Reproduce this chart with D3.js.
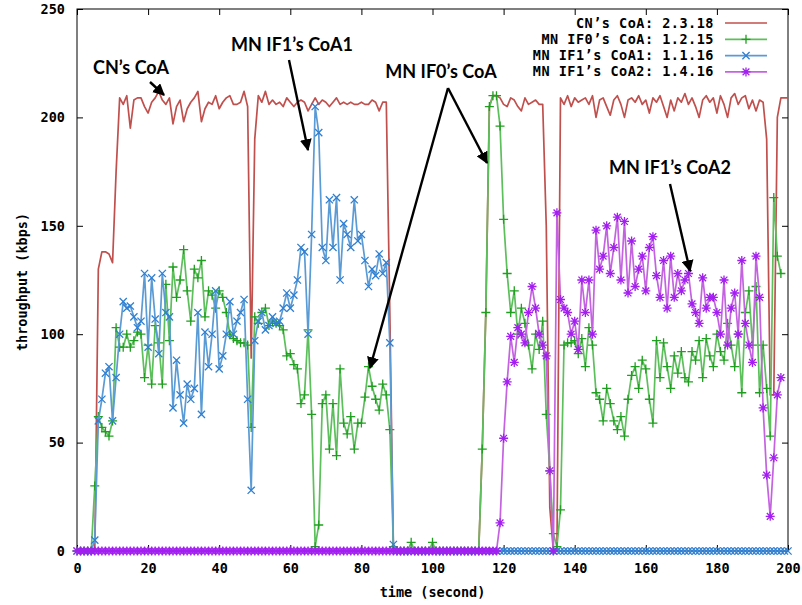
<!DOCTYPE html>
<html><head><meta charset="utf-8">
<script src="https://cdn.jsdelivr.net/npm/d3@7"></script>
<style>
html,body{margin:0;padding:0;background:#fff;}
svg{display:block;}
.tk text{font-family:"DejaVu Sans Mono",monospace;font-weight:bold;font-size:13.5px;fill:#000;}
</style></head>
<body>
<svg id="c" width="802" height="605"></svg>
<script>
// ---- data (time in seconds, throughput in kbps) ----
const timeDomain = [0, 200];
const yDomain = [0, 250];
const xTicks = [0,20,40,60,80,100,120,140,160,180,200];
const yTicks = [0,50,100,150,200,250];

const cnCoA = [0,0,0,0,0,0,130,138,138,137,
 133,175,209,206,210,195,208,209,209,205,
 202,207,209,212,208,206,209,197,205,208,
 198,204,207,209,212,198,204,207,206,210,
 204,207,209,210,206,206,207,212,205,89,
 190,210,207,212,206,208,206,207,205,209,
 207,205,207,208,207,203,206,209,206,208,
 207,205,207,209,206,207,206,207,206,206,
 207,206,206,208,207,203,207,207,110,0,
 0,0,0,0,0,0,0,0,0,0,
 0,0,0,0,0,0,0,0,0,0,
 0,0,0,0,47,110,205,210,210,209,
 206,205,209,208,205,203,209,206,207,208,
 206,206,150,20,0,0,209,206,210,205,
 209,207,208,209,206,210,200,208,209,205,
 201,208,210,206,200,208,209,207,210,206,
 208,202,209,207,210,205,200,208,203,209,
 207,211,206,209,205,200,208,210,207,209,
 202,210,206,200,209,211,206,209,210,204,
 208,203,208,207,190,72,72,200,209,209,
 209];

const mnIF0 = [0,0,0,0,0,30,62,57,55,53,
 60,103,94,94,100,94,97,101,100,80,
 95,77,104,96,77,123,97,131,117,125,
 139,120,106,130,126,134,108,120,118,112,
 120,117,110,100,98,97,96,96,95,57,
 108,105,110,112,104,106,105,104,102,90,
 91,86,84,68,72,102,63,2,12,68,
 72,47,68,44,84,59,54,62,47,59,
 59,71,85,76,70,65,77,72,56,2,
 0,0,0,0,4,0,0,0,0,0,
 4,0,0,0,0,0,0,0,0,0,
 0,0,0,0,47,110,205,210,210,196,
 153,128,110,120,100,112,105,95,84,100,
 93,106,63,37,8,2,19,95,96,96,
 97,91,98,85,103,95,73,70,60,75,
 68,60,56,62,53,70,81,85,75,88,
 84,70,59,97,80,96,85,75,90,82,
 92,80,78,92,88,97,80,98,90,85,
 100,92,88,105,95,85,100,73,110,120,
 95,122,73,95,75,53,163,136,128,null,
 null];

const mnIF1a = [0,0,0,0,0,5,60,70,82,85,
 60,80,100,115,112,113,108,103,106,128,
 94,126,107,91,128,110,108,66,88,72,
 59,77,70,75,110,63,101,85,100,120,
 84,90,100,115,100,106,110,116,70,28,
 97,106,110,102,104,108,105,106,112,119,
 112,118,125,140,138,100,146,205,193,140,
 134,162,140,163,125,151,146,140,162,143,
 146,134,122,130,127,137,128,133,96,3,
 0,0,0,0,0,0,0,0,0,0,
 0,0,0,0,0,0,0,0,0,0,
 0,0,0,0,0,0,0,0,0,0,
 0,0,0,0,0,0,0,0,0,0,
 0,0,0,0,0,0,0,0,0,0,
 0,0,0,0,0,0,0,0,0,0,
 0,0,0,0,0,0,0,0,0,0,
 0,0,0,0,0,0,0,0,0,0,
 0,0,0,0,0,0,0,0,0,0,
 0,0,0,0,0,0,0,0,0,0,
 0,0,0,0,0,0,0,0,0,0,
 0];

const mnIF1b = [0,0,0,0,0,0,0,0,0,0,
 0,0,0,0,0,0,0,0,0,0,
 0,0,0,0,0,0,0,0,0,0,
 0,0,0,0,0,0,0,0,0,0,
 0,0,0,0,0,0,0,0,0,0,
 0,0,0,0,0,0,0,0,0,0,
 0,0,0,0,0,0,0,0,0,0,
 0,0,0,0,0,0,0,0,0,0,
 0,0,0,0,0,0,0,0,0,0,
 0,0,0,0,0,0,0,0,0,0,
 0,0,0,0,0,0,0,0,0,0,
 0,0,0,0,0,0,0,0,0,13,
 52,78,99,87,103,100,96,110,122,112,
 100,95,90,37,0,156,116,112,110,100,
 106,93,125,110,125,100,148,130,136,150,
 128,140,154,125,152,119,143,122,130,136,
 120,140,145,127,117,134,112,136,117,128,
 120,125,128,114,110,105,126,112,117,117,
 110,100,125,95,112,119,100,134,105,95,
 87,136,117,66,35,16,43,72,80,null,
 null];

const seriesNames = ["CN\u2019s CoA: 2.3.18","MN IF0\u2019s CoA: 1.2.15","MN IF1\u2019s CoA1: 1.1.16","MN IF1\u2019s CoA2: 1.4.16"];
const seriesData = [cnCoA, mnIF0, mnIF1a, mnIF1b];
const lineColors = ["#c0504d","#5cbf5c","#5b9bd5","#c463e0"];
const markColors = [null,"#1f9e1f","#2f7fd2","#a21ff0"];
const markShapes = [null,"plus","cross","star"];

const annotations = [
  {text:"CN\u2019s CoA", x:131, y:74, arrows:[[150,82,164,95]]},
  {text:"MN IF1\u2019s CoA1", x:292, y:51, arrows:[[289,60,308,150]]},
  {text:"MN IF0\u2019s CoA", x:441, y:78, arrows:[[448,88,487,163],[448,88,370,368]]},
  {text:"MN IF1\u2019s CoA2", x:670, y:174, arrows:[[670,184,690,271]]}
];

// ---- drawing ----
const svg = d3.select("#c");
const L=77,R=788,T=9,B=551;
const x = d3.scaleLinear().domain(timeDomain).range([L,R]);
const y = d3.scaleLinear().domain(yDomain).range([B,T]);

const defs = svg.append("defs");
defs.append("marker").attr("id","ah").attr("viewBox","0 0 10 10").attr("refX",9).attr("refY",5)
  .attr("markerWidth",5).attr("markerHeight",5).attr("orient","auto").attr("markerUnits","strokeWidth")
  .append("path").attr("d","M0,0L10,5L0,10z").attr("fill","#000");

// axes (inward ticks, mirrored)
svg.append("g").attr("class","tk").attr("transform",`translate(0,${B})`)
  .call(d3.axisBottom(x).tickValues(xTicks).tickSizeInner(-6).tickSizeOuter(0).tickPadding(12));
svg.append("g").attr("class","tk").attr("transform",`translate(${L},0)`)
  .call(d3.axisLeft(y).tickValues(yTicks).tickSizeInner(-6).tickSizeOuter(0).tickPadding(12));
svg.append("g").attr("class","tk").attr("transform",`translate(0,${T})`)
  .call(d3.axisTop(x).tickValues(xTicks).tickSizeInner(-6).tickSizeOuter(0).tickFormat(""));
svg.append("g").attr("class","tk").attr("transform",`translate(${R},0)`)
  .call(d3.axisRight(y).tickValues(yTicks).tickSizeInner(-6).tickSizeOuter(0).tickFormat(""));
svg.selectAll(".tk .domain").remove();
svg.selectAll(".tk line").attr("stroke","#000");
svg.append("rect").attr("x",L).attr("y",T).attr("width",R-L).attr("height",B-T)
  .attr("fill","none").attr("stroke","#000").attr("stroke-width",1);

// axis titles
svg.append("text").attr("x",(L+R)/2).attr("y",597).attr("text-anchor","middle")
  .style("font-family","DejaVu Sans Mono, monospace").style("font-weight","bold").style("font-size","13.5px")
  .text("time (second)");
svg.append("text").attr("transform","translate(27,282) rotate(-90)").attr("text-anchor","middle")
  .style("font-family","DejaVu Sans Mono, monospace").style("font-weight","bold").style("font-size","13.5px")
  .text("throughput (kbps)");

function shapePath(s, r){
  if(s==="plus") return `M${-r},0H${r}M0,${-r}V${r}`;
  if(s==="cross") return `M${-r*0.8},${-r*0.8}L${r*0.8},${r*0.8}M${-r*0.8},${r*0.8}L${r*0.8},${-r*0.8}`;
  if(s==="star") return `M${-r},0H${r}M0,${-r}V${r}M${-r*0.75},${-r*0.75}L${r*0.75},${r*0.75}M${-r*0.75},${r*0.75}L${r*0.75},${-r*0.75}`;
  return "";
}

const line = d3.line().defined(d=>d.v!=null).x(d=>x(d.t)).y(d=>y(d.v));
const plot = svg.append("g");
seriesData.forEach((arr,i)=>{
  const pts = arr.map((v,t)=>({t,v}));
  plot.append("path").datum(pts).attr("d",line).attr("fill","none")
    .attr("stroke",lineColors[i]).attr("stroke-width",1.7).attr("stroke-linejoin","round");
  if(markShapes[i]){
    plot.append("g").selectAll("path").data(pts.filter(d=>d.v!=null)).join("path")
      .attr("transform",d=>`translate(${x(d.t)},${y(d.v)})`)
      .attr("d",shapePath(markShapes[i],4.5)).attr("stroke",markColors[i]).attr("stroke-width",1.3).attr("fill","none");
  }
});

// legend
const lg = svg.append("g");
seriesNames.forEach((n,i)=>{
  const yy = 23 + i*16.3;
  lg.append("text").attr("x",714).attr("y",yy+4.5).attr("text-anchor","end")
    .style("font-family","DejaVu Sans Mono, monospace").style("font-weight","bold").style("font-size","13.5px")
    .style("letter-spacing","0.5px").text(n);
  lg.append("line").attr("x1",725).attr("x2",767).attr("y1",yy).attr("y2",yy)
    .attr("stroke",lineColors[i]).attr("stroke-width",1.7);
  if(markShapes[i]) lg.append("path").attr("transform",`translate(746,${yy})`)
    .attr("d",shapePath(markShapes[i],4.5)).attr("stroke",markColors[i]).attr("stroke-width",1.3).attr("fill","none");
});

// annotations
annotations.forEach(a=>{
  svg.append("text").attr("x",a.x).attr("y",a.y).attr("text-anchor","middle")
    .style("font-family","Lato, 'Open Sans', sans-serif").style("font-weight","bold").style("font-size","18px")
    .text(a.text);
  a.arrows.forEach(ar=>{
    svg.append("line").attr("x1",ar[0]).attr("y1",ar[1]).attr("x2",ar[2]).attr("y2",ar[3])
      .attr("stroke","#000").attr("stroke-width",2.4).attr("marker-end","url(#ah)");
  });
});
</script>
</body></html>
